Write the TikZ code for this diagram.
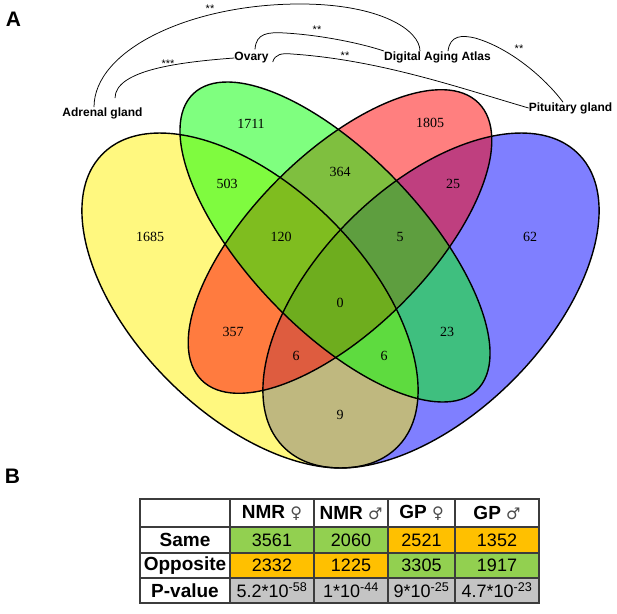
\documentclass[tikz,border=0pt]{standalone}
\usepackage{fontspec}
\setmainfont{Liberation Serif}
\setsansfont{Liberation Sans}
\newfontfamily\symfont{DejaVu Sans}
\definecolor{tgreen}{RGB}{146,208,80}
\definecolor{torange}{RGB}{255,192,0}
\definecolor{tgray}{RGB}{196,196,196}
\definecolor{tline}{RGB}{60,60,60}
\begin{document}
\begin{tikzpicture}[x=1pt,y=-1pt,
  vennline/.style={line width=1.4pt,black},
  vennfill/.style={fill opacity=0.5},
  num/.style={font=\fontsize{14}{16}\selectfont,inner sep=0pt},
  lab/.style={font=\sffamily\bfseries\fontsize{12}{14}\selectfont,inner sep=0pt},
  star/.style={font=\sffamily\fontsize{11}{12}\selectfont,inner sep=0pt},
  conn/.style={line width=0.75pt,black},
  panel/.style={font=\sffamily\bfseries\fontsize{21}{24}\selectfont,inner sep=0pt},
  val/.style={font=\sffamily\fontsize{18}{20}\selectfont,inner sep=0pt},
  rowlab/.style={font=\sffamily\bfseries\fontsize{19}{21}\selectfont,inner sep=0pt},
  grid/.style={line width=1.4pt,tline}]
\useasboundingbox (0,0) rectangle (617,613);
% panel labels
\node[panel] (pA) at (13.5,19.5) {A};
\node[panel] (pB) at (12.5,476) {B};
% Venn fills (order: blue, yellow, red, green)
\fill[blue,vennfill,rotate around={44.8:(431,300.5)}] (431,300.5) ellipse [x radius=207.9pt,y radius=114.3pt];
\fill[yellow,vennfill,rotate around={-44.8:(250,300.5)}] (250,300.5) ellipse [x radius=207.9pt,y radius=114.3pt];
\fill[red,vennfill,rotate around={45:(340,241.5)}] (340,241.5) ellipse [x radius=195.9pt,y radius=87.7pt];
\fill[green,vennfill,rotate around={-46.3:(335,242)}] (335,242) ellipse [x radius=205.1pt,y radius=86.9pt];
% Venn outlines
\draw[vennline,rotate around={44.8:(431,300.5)}] (431,300.5) ellipse [x radius=207.9pt,y radius=114.3pt];
\draw[vennline,rotate around={-44.8:(250,300.5)}] (250,300.5) ellipse [x radius=207.9pt,y radius=114.3pt];
\draw[vennline,rotate around={45:(340,241.5)}] (340,241.5) ellipse [x radius=195.9pt,y radius=87.7pt];
\draw[vennline,rotate around={-46.3:(335,242)}] (335,242) ellipse [x radius=205.1pt,y radius=86.9pt];
% Venn numbers
\node[num] (n1685) at (150,237) {1685};
\node[num] (n1711) at (251,124) {1711};
\node[num] (n1805) at (430,123) {1805};
\node[num] (n62) at (530,237) {62};
\node[num] (n503) at (227,184) {503};
\node[num] (n364) at (340,172) {364};
\node[num] (n25) at (453,184) {25};
\node[num] (n120) at (281,237) {120};
\node[num] (n5) at (400,237) {5};
\node[num] (n0) at (340,303) {0};
\node[num] (n357) at (233,332) {357};
\node[num] (n23) at (447,332) {23};
\node[num] (n6a) at (296,356) {6};
\node[num] (n6b) at (384,356) {6};
\node[num] (n9) at (340,415) {9};
% set labels
\node[lab] (adr) at (102.5,113) {Adrenal gland};
\node[lab] (ova) at (251.5,58) {Ovary};
\node[lab] (daa) at (437.5,57) {Digital Aging Atlas};
\node[lab] (pit) at (570.5,108) {Pituitary gland};
% connectors
\draw[conn] ([xshift=-8.5pt]adr.north) .. controls (94,50) and (190,4) .. (300,4)
  .. controls (380,4) and (420,30) .. ([xshift=-17.5pt]daa.north);
\draw[conn] ([xshift=12.5pt,yshift=9pt]adr.north) .. controls (115,70) and (180,62) .. (ova.west);
\draw[conn] ([xshift=3.5pt,yshift=3pt]ova.north) .. controls (256,33) and (268,32) .. (285,33)
  .. controls (320,35) and (360,43) .. ([yshift=6pt]daa.west);
\draw[conn] ([xshift=4pt,yshift=-4pt]ova.east) .. controls (275,54) and (282,53) .. (292,54)
  .. controls (380,60) and (460,88) .. (pit.west);
\draw[conn] ([xshift=10.5pt]daa.north) .. controls (450,35) and (462,35) .. (475,38)
  .. controls (510,48) and (545,78) .. ([xshift=-7.5pt]pit.north);
% significance stars
\node[star] (s1) at (210,9) {**};
\node[star] (s2) at (168,64) {***};
\node[star] (s3) at (317,30) {**};
\node[star] (s4) at (345,56) {**};
\node[star] (s5) at (519,49) {**};
% table fills
\fill[tgreen] (230,527) rectangle (388,553);
\fill[torange] (388,527) rectangle (539,553);
\fill[torange] (230,553) rectangle (388,578);
\fill[tgreen] (388,553) rectangle (539,578);
\fill[tgray] (230,578) rectangle (539,603);
% table grid
\draw[grid] (140,499) rectangle (539,603);
\draw[grid] (140,527) -- (539,527);
\draw[grid] (140,553) -- (539,553);
\draw[grid] (140,578) -- (539,578);
\foreach \xx in {230,314,388,455} {\draw[grid] (\xx,499) -- (\xx,603);}
% table header
\node[rowlab] (h1) at (272,513) {NMR \textnormal{\symfont\fontsize{16}{18}\selectfont\color{black!70}♀}};
\node[rowlab] (h2) at (351,513) {NMR \textnormal{\symfont\fontsize{16}{18}\selectfont\color{black!70}♂}};
\node[rowlab] (h3) at (421.5,513) {GP \textnormal{\symfont\fontsize{16}{18}\selectfont\color{black!70}♀}};
\node[rowlab] (h4) at (497,513) {GP \textnormal{\symfont\fontsize{16}{18}\selectfont\color{black!70}♂}};
% row labels
\node[rowlab] (r1) at (185,540) {Same};
\node[rowlab] (r2) at (185,565.5) {Opposite};
\node[rowlab] (r3) at (185,590.5) {P-value};
% values
\node[val] (v11) at (272,540) {3561};
\node[val] (v12) at (351,540) {2060};
\node[val] (v13) at (421.5,540) {2521};
\node[val] (v14) at (497,540) {1352};
\node[val] (v21) at (272,565.5) {2332};
\node[val] (v22) at (351,565.5) {1225};
\node[val] (v23) at (421.5,565.5) {3305};
\node[val] (v24) at (497,565.5) {1917};
\node[val] (v31) at (272,590.5) {5.2*10\textsuperscript{-58}};
\node[val] (v32) at (351,590.5) {1*10\textsuperscript{-44}};
\node[val] (v33) at (421.5,590.5) {9*10\textsuperscript{-25}};
\node[val] (v34) at (497,590.5) {4.7*10\textsuperscript{-23}};
\end{tikzpicture}
\end{document}
